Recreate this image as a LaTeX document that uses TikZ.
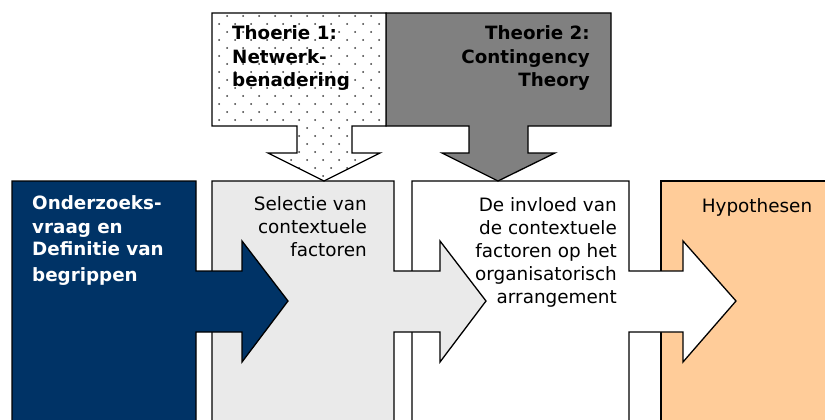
\documentclass[tikz,border=0pt]{standalone}
\usepackage{fontspec}
\setmainfont{DejaVu Sans}
\definecolor{navy}{HTML}{003366}
\definecolor{pale}{HTML}{EAEAEA}
\definecolor{midgray}{HTML}{808080}
\definecolor{peach}{HTML}{FFCC99}
\definecolor{dotgray}{HTML}{3A3A3A}
\begin{document}
\begin{tikzpicture}[x=1pt,y=-1pt,
  outlined/.style={draw=black,line width=1.3pt,line join=miter},
  txt/.style={inner sep=0pt,font=\fontsize{18.4}{23}\selectfont},
  boldtxt/.style={txt,font=\fontsize{18.3}{23.5}\selectfont\bfseries}]
\useasboundingbox (0,0) rectangle (825,420);
\clip (0,0) rectangle (825,420);

% result box
\path[outlined,fill=peach] (661,181) rectangle (840,460);

% third step with its arrow into the result box
\path[outlined,fill=white] (412,181) -- (629,181) -- (629,271) -- (683,271) -- (683,241)
  -- (736,301) -- (683,362) -- (683,332) -- (629,332) -- (629,460) -- (412,460) -- cycle;

% second step with its arrow
\path[outlined,fill=pale] (212,181) -- (394,181) -- (394,271) -- (440,271) -- (440,241)
  -- (486,301) -- (440,362) -- (440,332) -- (394,332) -- (394,460) -- (212,460) -- cycle;

% first step with its arrow
\path[outlined,fill=navy] (12,181) -- (196,181) -- (196,271) -- (242,271) -- (242,241)
  -- (288,301) -- (242,362) -- (242,332) -- (196,332) -- (196,460) -- (12,460) -- cycle;

% theory 2 callout
\path[outlined,fill=midgray] (386,13) -- (611,13) -- (611,126) -- (528,126) -- (528,153)
  -- (555,153) -- (498,181) -- (442,153) -- (469,153) -- (469,126) -- (386,126) -- cycle;

% theory 1 callout, dotted fill
\def\calloutone{(212,13) -- (386,13) -- (386,126) -- (352,126) -- (352,153)
  -- (380,153) -- (324,181) -- (268,153) -- (297,153) -- (297,126) -- (212,126) -- cycle}
\path[fill=white] \calloutone;
\begin{scope}
  \clip \calloutone;
  \foreach \r in {1,...,23}{
    \pgfmathtruncatemacro{\off}{mod(\r,2)==0 ? 3 : 11}
    \foreach \c in {0,...,12}{
      \fill[dotgray] (208+\off+16*\c,8*\r) circle (1pt);
    }
  }
\end{scope}
\path[outlined] \calloutone;

% labels
\node[boldtxt,text=white,align=left,anchor=north west] (qtext) at (32,195.5)
  {Onderzoeks-\\vraag en\\[-1.5pt]Definitie van\\[3pt]begrippen};
\node[txt,align=right,anchor=north east] (seltext) at (367,196.5)
  {Selectie van\\contextuele\\factoren};
\node[txt,align=right,anchor=north east] (inftext) at (617,197)
  {De invloed van\\de contextuele\\factoren op het\\organisatorisch\\arrangement};
\node[txt,anchor=north] (hyptext) at (757,198.5) {Hypothesen};
\node[boldtxt,align=left,anchor=north west] (t1text) at (232,25.5)
  {Thoerie 1:\\Netwerk-\\benadering};
\node[boldtxt,align=right,anchor=north east] (t2text) at (590,25.5)
  {Theorie 2:\\Contingency\\Theory};
\end{tikzpicture}
\end{document}
